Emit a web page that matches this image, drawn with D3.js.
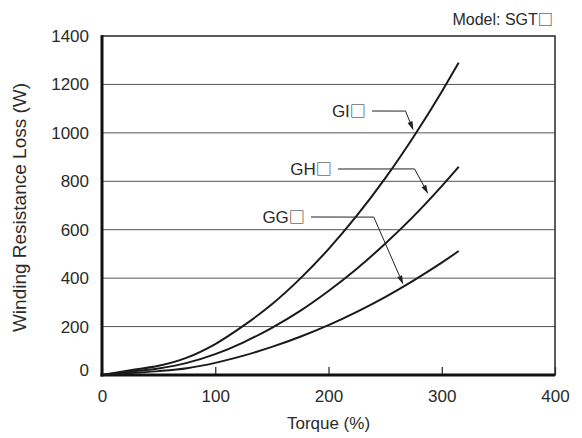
<!DOCTYPE html>
<html>
<head>
<meta charset="utf-8">
<script src="https://cdn.jsdelivr.net/npm/d3@7"></script>
<style>
  body { margin: 0; background: #fff; }
  text { font-family: "Liberation Sans", Arial, sans-serif; fill: #2a2a2a; }
  .box { font-family: "Noto Sans CJK JP", "DejaVu Sans", sans-serif; fill: #2a2a2a; }
</style>
</head>
<body>
<div id="chart"></div>
<script>
// torque (%) and winding resistance loss (W)
const torque = [0, 25, 50, 75, 100, 125, 150, 175, 200, 225, 250, 275, 300, 315];
const lossGI = [0, 20, 38, 72, 128, 204, 292, 398, 520, 658, 812, 983, 1170, 1290];
const lossGH = [0, 14, 27, 50, 86, 135, 195, 265, 347, 439, 542, 655, 780, 860];
const lossGG = [0, 8, 16, 28, 50, 80, 116, 158, 206, 261, 322, 390, 464, 512];

const seriesNames = ["GI", "GH", "GG"];
// label end point, leader knee and arrow tip, in (torque, W)
const labelPts = [[233, 1090], [203, 851], [179, 652]];
const kneePts = [[268, 1090], [276, 851], [240, 652]];
const tipPts = [[275, 1010], [288, 748], [266, 374]];

const xTicks = [0, 100, 200, 300, 400];
const yTicks = [0, 200, 400, 600, 800, 1000, 1200, 1400];

const width = 582, height = 438;
const margin = { top: 36, right: 27, bottom: 63, left: 102 };
const innerW = width - margin.left - margin.right;
const innerH = height - margin.top - margin.bottom;

const svg = d3.select("#chart").append("svg")
  .attr("width", width)
  .attr("height", height);

const g = svg.append("g")
  .attr("transform", `translate(${margin.left},${margin.top})`);

const x = d3.scaleLinear().domain([0, 400]).range([0, innerW]);
const y = d3.scaleLinear().domain([0, 1400]).range([innerH, 0]);

// grid lines
g.append("g")
  .selectAll("line")
  .data(yTicks.slice(1, -1))
  .join("line")
  .attr("x1", 0).attr("x2", innerW)
  .attr("y1", d => y(d)).attr("y2", d => y(d))
  .attr("stroke", "#555")
  .attr("stroke-width", 1);

// y axis labels
const yAxis = g.append("g")
  .call(d3.axisLeft(y).tickValues(yTicks).tickFormat(d3.format("d")).tickSize(0).tickPadding(13));
yAxis.select(".domain").remove();
yAxis.selectAll("text")
  .attr("font-size", 17)
  .attr("font-family", "Liberation Sans, Arial, sans-serif")
  .attr("fill", "#2a2a2a")
  .attr("dy", d => d === 0 ? "0.05em" : "0.32em");

// x axis with inward ticks
const xAxis = g.append("g")
  .attr("transform", `translate(0,${innerH})`)
  .call(d3.axisBottom(x).tickValues(xTicks).tickSizeInner(-8).tickSizeOuter(0).tickPadding(15));
xAxis.select(".domain").remove();
xAxis.selectAll("line").attr("stroke", "#222").attr("stroke-width", 1.2);
xAxis.selectAll("text")
  .attr("font-size", 17)
  .attr("font-family", "Liberation Sans, Arial, sans-serif")
  .attr("fill", "#2a2a2a");

// frame
g.append("rect")
  .attr("width", innerW).attr("height", innerH)
  .attr("fill", "none")
  .attr("stroke", "#333")
  .attr("stroke-width", 1.6);
g.append("line")
  .attr("x1", 0).attr("x2", 0).attr("y1", -0.8).attr("y2", innerH + 1.5)
  .attr("stroke", "#111").attr("stroke-width", 3);
g.append("line")
  .attr("x1", -1.5).attr("x2", innerW).attr("y1", innerH).attr("y2", innerH)
  .attr("stroke", "#111").attr("stroke-width", 3);

// curves
const line = d3.line()
  .x(d => x(d[0]))
  .y(d => y(d[1]))
  .curve(d3.curveMonotoneX);

[lossGI, lossGH, lossGG].forEach(vals => {
  g.append("path")
    .datum(torque.map((t, i) => [t, vals[i]]))
    .attr("d", line)
    .attr("fill", "none")
    .attr("stroke", "#1a1a1a")
    .attr("stroke-width", 2);
});

// text with a trailing box glyph
function boxedText(sel, str) {
  sel.append("tspan").text(str);
  sel.append("tspan").attr("class", "box").attr("font-size", "0.95em").text("□");
  return sel;
}

// labels with leader arrows
seriesNames.forEach((name, i) => {
  const lx = Math.round(x(labelPts[i][0])), ly = Math.round(y(labelPts[i][1]));
  const kx = x(kneePts[i][0]), ky = y(kneePts[i][1]);
  const tx = x(tipPts[i][0]), ty = y(tipPts[i][1]);

  g.append("text")
    .attr("x", lx).attr("y", ly + 6)
    .attr("text-anchor", "end")
    .attr("font-size", 17)
    .attr("opacity", 0.999)
    .call(boxedText, name);

  const dx = tx - kx, dy = ty - ky;
  const len = Math.sqrt(dx * dx + dy * dy);
  const ux = dx / len, uy = dy / len;
  const ah = 9, aw = 2.6;
  const bx = tx - ux * ah, by = ty - uy * ah;

  g.append("path")
    .attr("d", `M${lx + 6},${ly}L${kx},${ky}L${bx},${by}`)
    .attr("fill", "none")
    .attr("stroke", "#222")
    .attr("stroke-width", 1);

  g.append("path")
    .attr("d", `M${tx},${ty}L${bx - uy * aw},${by + ux * aw}L${bx + uy * aw},${by - ux * aw}Z`)
    .attr("fill", "#222");
});

// titles
svg.append("text")
  .attr("x", 553).attr("y", 25)
  .attr("text-anchor", "end")
  .attr("font-size", 16)
  .call(boxedText, "Model: SGT");

svg.append("text")
  .attr("x", margin.left + x(200)).attr("y", 429)
  .attr("text-anchor", "middle")
  .attr("font-size", 17)
  .text("Torque (%)");

svg.append("text")
  .attr("transform", `translate(26,${margin.top + innerH / 2 + 2}) rotate(-90)`)
  .attr("text-anchor", "middle")
  .attr("font-size", 19)
  .text("Winding Resistance Loss (W)");
</script>
</body>
</html>
